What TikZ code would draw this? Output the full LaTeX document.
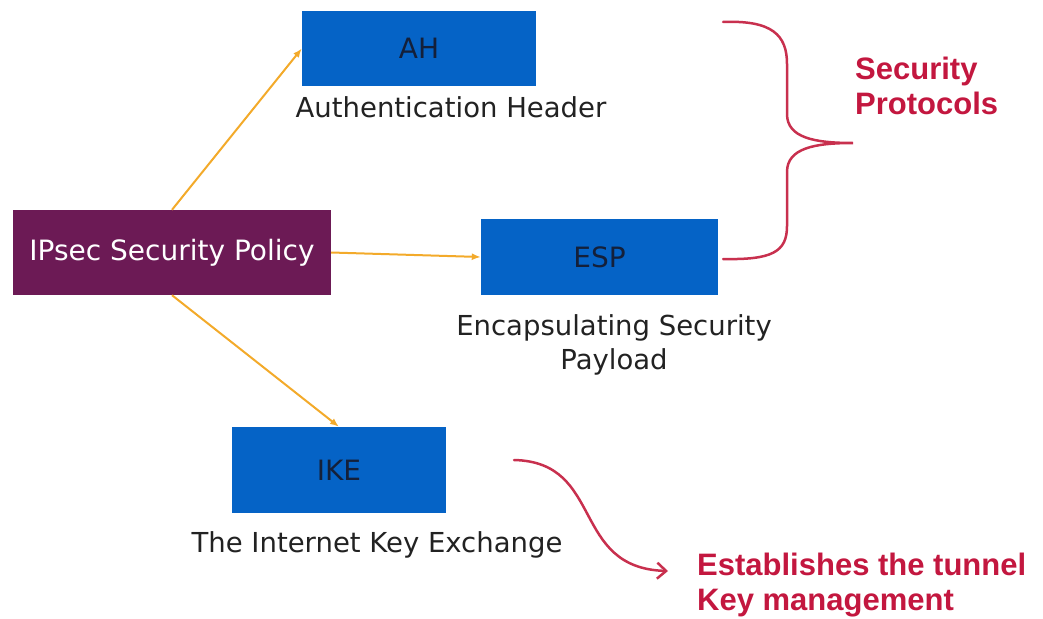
\documentclass[tikz,border=0pt]{standalone}
\usepackage{fontspec}
\setmainfont{DejaVu Sans}
\newfontfamily\boldsans{Liberation Sans}
\usetikzlibrary{arrows.meta}
\definecolor{boxblue}{HTML}{0563C6}
\definecolor{policy}{HTML}{6C1A55}
\definecolor{linkorange}{HTML}{F3AA2A}
\definecolor{accent}{HTML}{C3173F}
\definecolor{bracered}{HTML}{C8304E}
\definecolor{labelnavy}{HTML}{14203A}
\definecolor{bodytext}{HTML}{222222}
\tikzset{
  protobox/.style={fill=boxblue, draw=none, text=labelnavy, font=\fontsize{28}{32}\selectfont},
  policybox/.style={fill=policy, draw=none, text=white, font=\fontsize{28}{32}\selectfont},
  caption/.style={text=bodytext, font=\fontsize{27.5}{34}\selectfont, align=center, inner sep=0pt},
  note/.style={text=accent, font=\boldsans\bfseries\fontsize{31}{35.5}\selectfont, align=left, inner sep=0pt, anchor=west},
  link/.style={draw=linkorange, line width=2pt, -{Latex[length=9pt,width=7pt]}},
  redline/.style={draw=bracered, line width=2.5pt, line cap=round}
}
\begin{document}
\begin{tikzpicture}[x=1pt,y=-1pt]
\path[use as bounding box] (0,0) rectangle (1043,618);

% main boxes
\node[policybox, minimum width=318pt, minimum height=85pt] (ipsec) at (172,252.5) {IPsec Security Policy};
\node[protobox, minimum width=234pt, minimum height=75pt] (ah) at (419,48.5) {AH};
\node[protobox, minimum width=237pt, minimum height=76pt] (esp) at (599.5,257) {ESP};
\node[protobox, minimum width=214pt, minimum height=86pt] (ike) at (339,470) {IKE};

% captions under the boxes
\node[caption] (ahcap) at (451,107) {Authentication Header};
\node[caption] (espcap) at (614,345) {Encapsulating Security\\Payload};
\node[caption] (ikecap) at (377,545) {The Internet Key Exchange};

% links from the policy
\draw[link] (ipsec.north) -- (ah.west);
\draw[link] (ipsec.east) -- (esp.west);
\draw[link] (ipsec.south) -- (ike.north);

% brace grouping AH and ESP
\coordinate (btop) at (723,22);
\coordinate (bbot) at (723,259);
\coordinate (btip) at (853,143);
\draw[redline] (btop) .. controls (772,20) and (787,35) .. (787,64) -- (787,114)
  .. controls (787,138) and (815,143) .. (btip)
  .. controls (815,143) and (787,148) .. (787,172) -- (787,226)
  .. controls (787,252) and (772,260) .. (bbot);
\node[note] (secprot) at (855,86) {Security\\Protocols};

% note for IKE
\node[note] (tunnel) at (697,585) {Establishes the tunnel\\Key management};
\coordinate (cstart) at (514,460);
\coordinate (cend) at (668,571);
\draw[redline, -{Straight Barb[length=9pt,width=16pt]}] (cstart) .. controls (605,462) and (570,568) .. (cend);
\end{tikzpicture}
\end{document}
